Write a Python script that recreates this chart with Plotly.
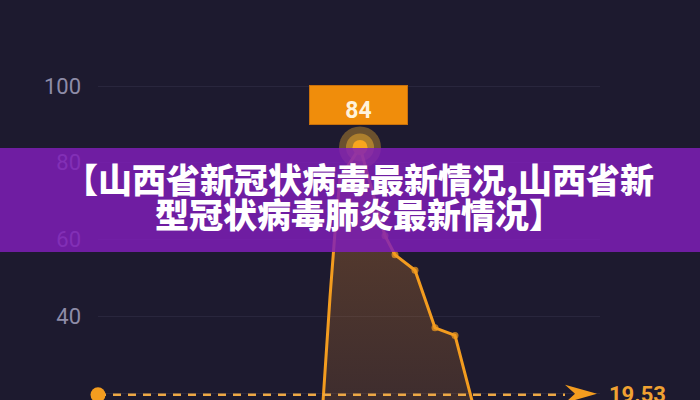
import plotly.graph_objects as go

# ---- data ----
days = [44, 45, 46, 47, 48, 52, 57, 59, 63, 67, 71, 75, 78]
cases = [6, 26, 45, 62, 76, 84, 61, 56, 52, 37, 35, 15, 5]
y_ticks = [20, 40, 60, 80, 100]
y_tick_labels = ["20", "40", "60", "80", "100"]
ref_value = 19.53
ref_label = "19.53"
title_line1 = "【山西省新冠状病毒最新情况,山西省新"
title_line2 = "型冠状病毒肺炎最新情况】"

x_range = [-0.4, 100]
y_range = [18.18, 122.41]
ref_x_start = -0.4
ref_x_end = 93
arrow_tip_x = 99.4

BG = "#1d1a2f"
ORANGE = "#F39C1F"

peak_i = max(range(len(cases)), key=lambda i: cases[i])
peak_x, peak_y = days[peak_i], cases[peak_i]
# dots only on the knees after the peak
marker_sizes = [0 if i <= peak_i else 7 for i in range(len(days))]

fig = go.Figure()

# main area line
fig.add_trace(go.Scatter(
    x=days, y=cases, mode="lines+markers",
    line=dict(color=ORANGE, width=3),
    marker=dict(color=ORANGE, size=marker_sizes, line=dict(width=0)),
    fill="tozeroy",
    fillgradient=dict(type="vertical", start=0, stop=peak_y,
                      colorscale=[[0, "rgba(230,140,40,0.12)"],
                                  [1, "rgba(230,140,40,0.33)"]]),
    hoverinfo="skip", showlegend=False,
))

# peak glow
fig.add_trace(go.Scatter(
    x=[peak_x], y=[peak_y], mode="markers",
    marker=dict(color="rgba(255,185,45,0.35)", size=42, line=dict(width=0)),
    hoverinfo="skip", showlegend=False, cliponaxis=False,
))
fig.add_trace(go.Scatter(
    x=[peak_x], y=[peak_y], mode="markers",
    marker=dict(color="rgba(255,185,45,0.45)", size=28, line=dict(width=0)),
    hoverinfo="skip", showlegend=False, cliponaxis=False,
))
fig.add_trace(go.Scatter(
    x=[peak_x], y=[peak_y], mode="markers",
    marker=dict(color="#F9A51E", size=15, line=dict(width=0)),
    hoverinfo="skip", showlegend=False, cliponaxis=False,
))

# reference dashed line
fig.add_trace(go.Scatter(
    x=[ref_x_start, ref_x_end], y=[ref_value, ref_value], mode="lines",
    line=dict(color="#EDA845", width=2.5, dash="8px,7px"),
    hoverinfo="skip", showlegend=False, cliponaxis=False,
))
fig.add_trace(go.Scatter(
    x=[ref_x_start], y=[ref_value], mode="markers",
    marker=dict(color=ORANGE, size=15, line=dict(width=0)),
    hoverinfo="skip", showlegend=False, cliponaxis=False,
))

# arrow head at the end of the reference line
fig.add_shape(
    type="path", xref="x", yref="y",
    xsizemode="pixel", ysizemode="pixel",
    xanchor=arrow_tip_x, yanchor=ref_value,
    path="M0,1 L-32,10 L-22,1 L-32,-8 Z",
    fillcolor=ORANGE, line=dict(width=0),
)

# purple banner
fig.add_shape(
    type="rect", xref="paper", yref="paper",
    x0=-0.25, x1=1.25, y0=1 - 252 / 400, y1=1 - 148 / 400,
    fillcolor="rgba(128,30,185,0.84)", line=dict(width=0), layer="above",
)

# banner title
for txt, ypos in [(title_line1, 1 - 178 / 400), (title_line2, 1 - 213 / 400)]:
    fig.add_annotation(
        xref="paper", yref="paper", x=0.52, y=ypos,
        xanchor="center", yanchor="middle", showarrow=False,
        text=txt,
        font=dict(family="Noto Sans CJK SC", size=34, color="#ffffff", weight=900),
    )

# peak value label
fig.add_annotation(
    x=peak_x, y=peak_y, xref="x", yref="y",
    xanchor="center", yanchor="bottom", yshift=22, xshift=-2,
    showarrow=False, text="<b>%d</b>" % peak_y,
    width=97, height=38, valign="bottom",
    bgcolor="#F08D0B", bordercolor="#C8700C", borderwidth=1, borderpad=0,
    font=dict(family="Roboto", size=23, color="#FFF3DC"),
)

# reference value label
fig.add_annotation(
    xref="paper", yref="y", x=(607 - 98) / 502, y=ref_value,
    xanchor="left", yanchor="middle", showarrow=False,
    text="<b>" + ref_label + "</b>",
    font=dict(family="Roboto", size=22, color="#F0A232"),
)

fig.update_layout(
    width=700, height=400,
    margin=dict(l=98, r=100, t=0, b=0),
    paper_bgcolor=BG, plot_bgcolor=BG,
    showlegend=False,
    xaxis=dict(range=x_range, visible=False, fixedrange=True),
    yaxis=dict(
        range=y_range, tickvals=y_ticks, ticktext=y_tick_labels,
        showgrid=True, gridcolor="#29263d", gridwidth=1,
        zeroline=False, showline=False, ticks="",
        ticklabelstandoff=16,
        tickfont=dict(family="Roboto", size=22, color="#8E8CA8"),
        fixedrange=True,
    ),
)

fig.write_html(
    "out.html",
    config={"displayModeBar": False},
    post_script="document.body.style.margin='0';document.body.style.overflow='hidden';document.body.style.background='%s';" % BG,
)
